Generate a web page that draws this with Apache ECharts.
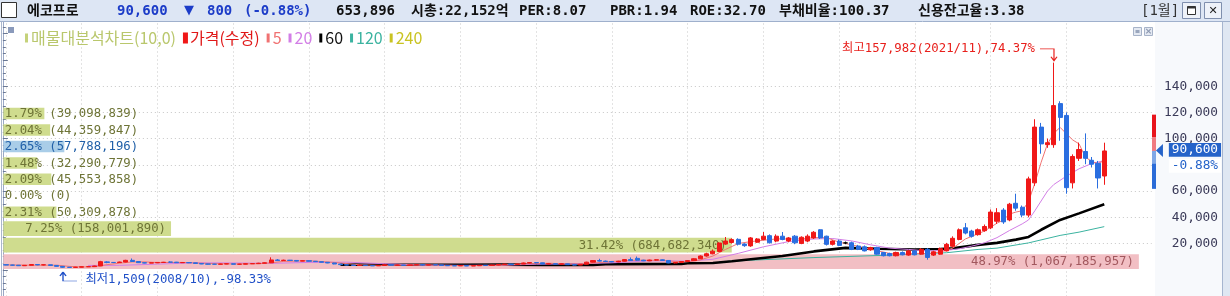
<!DOCTYPE html>
<html><head><meta charset="utf-8">
<script src="https://cdn.jsdelivr.net/npm/echarts@6/dist/echarts.min.js"></script>
<style>html,body{margin:0;padding:0;background:#fff;overflow:hidden}#c{width:1230px;height:296px}</style>
</head><body><div id="c"></div>
<script>
// ---------- categories (monthly, 2008/01 .. 2022/07 + empty right margin) ----------
const months = [];
for (let y = 2008; y <= 2023; y++) for (let m = 1; m <= 12; m++) if (months.length < 182) months.push(y + '/' + String(m).padStart(2, '0'));

// ---------- monthly candles (won) ----------
const openP = [3900,3600,3500,3100,3400,4000,3700,3800,3300,2600,1900,1800,2000,2300,2400,2900,6000,5600,5500,5900,7200,6300,5400,5100,5300,5600,5900,5800,5400,5500,5300,4800,4400,4300,4200,4400,4600,4200,4300,4600,4700,5000,5300,7500,7000,7300,7100,6600,6900,6500,6200,5700,5200,4400,3900,3600,3300,3500,3200,3000,3300,3800,3500,3600,3400,3700,3900,3600,3800,3700,3300,3100,3000,3200,2900,3100,3400,3300,3600,4000,4300,4100,4400,5200,5500,5300,4400,4600,4300,4500,3900,3600,4200,5800,7000,6600,6300,6000,6500,7800,8700,7300,6800,7400,7600,7100,5200,5600,6300,7000,8400,10500,12200,14000,19600,20800,23200,19600,18200,21000,23100,26000,21900,25600,21900,25600,20100,21900,24300,30500,25600,19400,21900,20500,20600,18100,17500,15200,16900,13200,12400,10700,13200,11200,14400,11900,15600,11200,11900,14400,17900,23100,32000,29500,26800,29800,32000,37000,45500,38000,50700,47700,41700,66300,108800,95400,95400,126700,117700,66300,85000,90200,83500,81200,71500];
const closeP = [3600,3500,3100,3400,4000,3700,3800,3300,2600,1900,1800,2000,2300,2400,2900,6200,5600,5500,5900,7200,6300,5400,5100,5300,5600,5700,5800,5400,5500,5300,4800,4400,4300,4200,4400,4600,4200,4300,4600,4700,5000,5300,7500,7000,7300,7100,6600,6900,6500,6200,5700,5200,4400,3900,3600,3300,3500,3200,3000,3300,3800,3500,3600,3400,3700,3900,3600,3800,3700,3300,3100,3000,3200,2900,3100,3400,3300,3600,4000,4300,4100,4400,5200,5500,5300,4400,4600,4300,4500,3900,3600,4200,5800,7000,6600,6300,6000,6500,7800,7000,7300,6800,7400,7600,7100,5200,5600,6300,7000,8400,10500,12200,14200,20400,21900,23000,19500,18400,24300,23500,25600,20600,25600,23100,24300,20600,24800,25600,28600,24300,19400,21900,18600,20500,15600,15600,14400,16900,11900,10700,10700,13200,11400,14400,11400,15600,9400,13700,16100,19400,24000,30500,28000,25500,30500,33000,44000,43500,36500,50000,47000,41700,69300,108800,96000,96900,125200,116200,62600,86400,91700,85000,80500,70000,90600];
const lowP = [3400,3200,3000,3000,3300,3500,3400,3200,2400,1509,1600,1700,1900,2100,2300,2800,5000,5100,5300,5700,6000,5200,4900,5000,5100,5400,5500,5200,5200,5100,4700,4300,4100,4000,4100,4300,4100,4000,4200,4400,4600,4900,5200,6800,6800,6800,6400,6500,6300,6000,5500,5000,4200,3700,3400,3200,3200,3100,2900,2900,3200,3400,3400,3300,3300,3600,3500,3500,3500,3200,3000,2900,2900,2800,2800,3000,3100,3200,3500,3900,3900,4000,4300,5000,5000,4200,4200,4100,4100,3700,3400,3500,4100,5600,6300,6000,5800,5800,6300,6800,7000,6600,6600,7100,6900,5000,4900,5400,6100,6800,8200,10000,11800,13500,19000,20000,18500,17500,17500,20500,22500,20000,21000,22500,21000,19500,19500,21000,23500,23500,18500,18500,18000,19500,15000,15000,14000,14500,11500,10200,10200,10200,11000,10700,11000,11500,7700,10500,11500,14000,17000,22500,27000,24500,26000,29000,31000,35000,35000,37000,45000,40000,40000,64000,88500,93000,93000,98400,58000,62000,83000,80500,78000,62000,64800];
const highP = [4100,3800,3600,3600,4300,4100,4000,3900,3400,2700,2100,2200,2500,2700,3100,6800,6500,5900,6200,7600,8600,6500,5600,5600,5900,6000,6400,6000,5800,5700,5400,4900,4600,4500,4600,4800,4700,4500,4800,4900,5300,5600,9500,8200,7700,7500,7200,7100,7000,6700,6300,5800,5300,4500,4000,3700,3700,3600,3300,3500,4000,3900,3800,3700,3900,4100,4000,4000,3900,3800,3400,3200,3400,3300,3200,3600,3500,3800,4200,4500,4500,4600,5500,5900,5800,5400,4900,4700,4700,4600,4000,4400,6100,7400,8400,7000,6600,6800,8200,9400,10100,7600,7700,8000,7900,7300,5900,6600,7300,8800,11000,13000,15500,21000,25000,24000,24000,20200,25000,24200,28800,27000,27000,28800,25000,26500,25500,27000,29500,31000,26000,22500,23000,21500,21500,19000,18500,17500,17500,13500,13000,13800,14000,15000,15000,16500,16500,14500,17000,20500,25500,31500,35600,30500,31500,34500,46000,47000,47000,51000,58000,49000,71000,114800,112000,100000,157982,128500,120000,88000,97000,104000,86000,83000,96900];

// ---------- moving averages: [month, value] ----------
const ma5 = [['2008/01',3700],['2008/05',3500],['2008/09',3500],['2008/11',2600],['2009/01',2100],['2009/03',2400],['2009/05',3900],['2009/07',5000],['2009/09',6000],['2009/11',6000],['2010/01',5500],['2010/05',5600],['2010/09',4800],['2011/01',4400],['2011/05',4600],['2011/07',5300],['2011/09',6400],['2012/01',6900],['2012/05',5600],['2012/09',3800],['2013/01',3300],['2013/07',3700],['2014/01',3200],['2014/07',3400],['2014/11',4400],['2015/03',5000],['2015/07',4200],['2015/10',5000],['2016/01',6400],['2016/05',7300],['2016/09',7200],['2016/11',6400],['2017/01',6100],['2017/03',7500],['2017/05',10500],['2017/07',15500],['2017/09',20000],['2017/11',21500],['2018/01',22500],['2018/03',23500],['2018/05',23500],['2018/07',23500],['2018/09',24500],['2018/11',24500],['2019/01',21000],['2019/03',19000],['2019/05',16800],['2019/07',14500],['2019/09',12500],['2019/11',11800],['2020/01',12500],['2020/03',12300],['2020/05',13500],['2020/07',16500],['2020/09',23500],['2020/11',27500],['2020/12',29500],['2021/01',32500],['2021/02',35500],['2021/03',38000],['2021/04',42500],['2021/05',44000],['2021/06',45000],['2021/07',52000],['2021/08',66000],['2021/09',82000],['2021/10',96000],['2021/11',104000],['2021/12',108600],['2022/01',103700],['2022/02',99000],['2022/03',96000],['2022/04',86000],['2022/05',82600],['2022/06',81000],['2022/07',83300]];
const ma20 = [['2009/02',3300],['2009/07',3400],['2010/01',4300],['2010/07',5300],['2011/01',5200],['2011/07',4900],['2012/01',5600],['2012/07',5800],['2013/01',4600],['2013/07',3500],['2014/01',3400],['2014/07',3400],['2015/01',4200],['2015/07',4500],['2016/01',5300],['2016/07',6800],['2017/01',6600],['2017/05',8000],['2017/09',12500],['2018/01',17500],['2018/05',21500],['2018/09',23500],['2018/12',23800],['2019/03',22000],['2019/06',19000],['2019/09',16500],['2019/12',15500],['2020/03',14300],['2020/06',14800],['2020/08',16000],['2020/10',18000],['2020/12',20500],['2021/02',24500],['2021/04',30000],['2021/06',35000],['2021/07',38000],['2021/08',45000],['2021/10',60000],['2021/11',65000],['2022/01',71400],['2022/03',77000],['2022/05',81000],['2022/07',83300]];
const ma60 = [['2012/06',3900],['2013/01',3800],['2014/01',3800],['2014/08',3900],['2015/02',3700],['2015/10',3700],['2015/12',4300],['2016/12',4400],['2017/01',5000],['2017/05',5200],['2017/08',6500],['2017/11',8000],['2018/04',10500],['2018/09',14000],['2019/02',16700],['2019/07',16000],['2020/01',15500],['2020/05',15800],['2020/07',16300],['2020/11',19000],['2021/02',20500],['2021/05',23000],['2021/07',25000],['2021/09',30500],['2021/12',38000],['2022/03',43000],['2022/07',50000]];
const ma120 = [['2017/06',6000],['2017/11',7300],['2018/09',9300],['2019/08',11000],['2020/01',12000],['2020/06',13000],['2020/11',15500],['2021/02',16500],['2021/07',20500],['2021/12',26200],['2022/03',28700],['2022/07',32900]];
const ma240 = [];

// ---------- volume profile (10 price bands, bottom to top) ----------
const bandEdges = [0,12540,25080,37620,50160,62700,75240,87780,100320,112860,125400];
const profilePct = [48.97,31.42,7.25,2.31,0.00,2.09,1.48,2.65,2.04,1.79];
const profileVol = [1067185957,684682340,158001890,50309878,0,45553858,32290779,57788196,44359847,39098839];

// ---------- current price / header ----------
const curPrice = 90600;
const rangeSegs = [118300,101200,90600,81100,61700];
const yTicks = [20000,40000,60000,80000,100000,120000,140000];

const MONO = "'DejaVu Sans Mono','Noto Sans CJK KR',monospace";
const CJK = "'Noto Sans CJK KR','DejaVu Sans',sans-serif";
const fmt = v => v.toLocaleString('en-US');
const mctx = document.createElement('canvas').getContext('2d');
function textW(t, font){ mctx.font = font; return mctx.measureText(t).width; }

const candles = openP.map((o, i) => {
  const v = [o, closeP[i], lowP[i], highP[i]];
  if (o === closeP[i]) return {value: v, itemStyle: {color:'#000', color0:'#000', borderColor:'#000', borderColor0:'#000'}};
  return v;
});
let hiIdx = 0, loIdx = 0;
highP.forEach((h, i) => { if (h > highP[hiIdx]) hiIdx = i; });
lowP.forEach((l, i) => { if (l < lowP[loIdx]) loIdx = i; });
const hiPct = ((highP[hiIdx] - curPrice) / curPrice * 100).toFixed(2);
const loPct = ((lowP[loIdx] - curPrice) / curPrice * 100).toFixed(2);
const lastCat = months[months.length - 1];
let maxBand = 0; profilePct.forEach((p, k) => { if (p > profilePct[maxBand]) maxBand = k; });

const GRID_L = 2.84, GRID_W = 1148.78;
const PFONT = "12.3px " + MONO;

const chart = echarts.init(document.getElementById('c'), null, {renderer: 'canvas'});
chart.setOption({
  animation: false,
  textStyle: {fontFamily: MONO},
  grid: {left: GRID_L, width: GRID_W, top: 7.5, bottom: -6.6},
  legend: {
    left: 25, top: 30, padding: 0, itemGap: 7, itemWidth: 3, itemHeight: 9, icon: 'rect', selectedMode: false,
    textStyle: {fontFamily: CJK, fontSize: 16, padding: [0,0,0,-2]},
    data: [
      {name: '매물대분석차트(10,0)', textStyle: {color: '#b9c76c'}},
      {name: '가격(수정)', textStyle: {color: '#e01818'}},
      {name: '5', textStyle: {color: '#f07272'}},
      {name: '20', textStyle: {color: '#d27ee6'}},
      {name: '60', textStyle: {color: '#111'}},
      {name: '120', textStyle: {color: '#3bb3a0'}},
      {name: '240', textStyle: {color: '#c9c322'}}
    ]
  },
  xAxis: [
    {type: 'category', data: months, boundaryGap: true,
     axisLine: {show: false}, axisTick: {show: false}, axisLabel: {show: false},
     splitLine: {show: true, alignWithLabel: true,
       interval: (idx, val) => idx < openP.length && String(val).slice(5) === '01',
       lineStyle: {color: '#c6c6c6', type: [1, 3], width: 1}}},
    {type: 'value', min: 0, max: 49.52, show: false}
  ],
  yAxis: {
    type: 'value', position: 'right', min: -20000, max: 200000, interval: 20000, offset: 2.4,
    axisLine: {show: true, lineStyle: {color: '#9aa8c6'}},
    axisTick: {show: true, length: 5, lineStyle: {color: '#6a7894'}},
    minorTick: {show: true, splitNumber: 4, length: 3, lineStyle: {color: '#6a7894'}},
    axisLabel: {align: 'right', margin: 64, color: '#3a3a58', fontFamily: MONO, fontSize: 12.8,
      formatter: v => yTicks.indexOf(v) >= 0 ? fmt(v) : ''},
    splitLine: {show: true, lineStyle: {type: [1, 3], width: 1,
      color: ['rgba(0,0,0,0)','rgba(0,0,0,0)','#c6c6c6','#c6c6c6','#c6c6c6','#c6c6c6','#c6c6c6','#c6c6c6','#c6c6c6','rgba(0,0,0,0)','rgba(0,0,0,0)','rgba(0,0,0,0)']}}
  },
  series: [
    {
      type: 'custom', name: '매물대분석차트(10,0)', xAxisIndex: 1, yAxisIndex: 0, z: 1, silent: true,
      itemStyle: {color: '#c5d27a'},
      encode: {x: 0, y: [1, 2]},
      data: profilePct.map((p, k) => [p, bandEdges[k], bandEdges[k + 1], profileVol[k], k]),
      renderItem(params, api) {
        const pct = api.value(0), lo = api.value(1), hi = api.value(2), vol = api.value(3), k = api.value(4);
        const cs = params.coordSys;
        const yTop = api.coord([0, hi])[1], yBot = api.coord([0, lo])[1];
        const mid = (yTop + yBot) / 2;
        const h = pct < 5 ? 11.5 : (yBot - yTop - 1.6);
        const top = mid - h / 2, bot = mid + h / 2;
        const x0 = cs.x, x1 = api.coord([pct, lo])[0];
        let fill = '#cfdc8e', tcol = '#6e7436';
        if (k === maxBand) { fill = '#f2bfc4'; tcol = '#a2585e'; }
        else if (curPrice >= lo && curPrice < hi) { fill = '#a9cde8'; tcol = '#2160a8'; }
        const children = [];
        if (pct > 0) children.push({type: 'rect', shape: {x: x0 + 0.5, y: top, width: x1 - x0 - 0.5, height: bot - top}, style: {fill}});
        const txt = pct.toFixed(2) + '% (' + fmt(vol) + ')';
        const w = textW(txt, PFONT);
        let tx = x0 + 2, align = 'left';
        if (x1 - x0 > w + 12) { tx = x1 - 5; align = 'right'; }
        children.push({type: 'text', style: {text: txt, x: tx, y: mid + 0.5, fill: tcol, font: PFONT, align, verticalAlign: 'middle'}});
        return {type: 'group', children};
      }
    },
    {type: 'line', name: '240', data: ma240, symbol: 'none', z: 3, itemStyle: {color: '#c9c322'}, lineStyle: {color: '#c9c322', width: 1}},
    {type: 'line', name: '120', data: ma120, symbol: 'none', z: 3, itemStyle: {color: '#3bb3a0'}, lineStyle: {color: '#3bb3a0', width: 1}},
    {type: 'line', name: '60', data: ma60, symbol: 'none', z: 3, itemStyle: {color: '#000'}, lineStyle: {color: '#000', width: 2.6}},
    {type: 'line', name: '20', data: ma20, symbol: 'none', z: 3, itemStyle: {color: '#d27ee6'}, lineStyle: {color: '#d27ee6', width: 1}},
    {type: 'line', name: '5', data: ma5, symbol: 'none', z: 3, itemStyle: {color: '#f07272'}, lineStyle: {color: '#f07272', width: 1}},
    {
      type: 'candlestick', name: '가격(수정)', z: 4, barWidth: 4.6, data: candles,
      itemStyle: {color: '#f01818', color0: '#2a6ee0', borderColor: '#f01818', borderColor0: '#2a6ee0', borderWidth: 1},
      markPoint: {
        silent: true, animation: false,
        data: [
          {coord: [months[hiIdx], highP[hiIdx]], symbol: 'path://M0,0 L14,0 L14,11 M11,8 L14,12 L17,8', symbolSize: [17, 12], symbolOffset: [-5.3, -7.8],
           itemStyle: {color: 'none', borderColor: '#e8201c', borderWidth: 1},
           label: {show: true, position: 'left', distance: 2, offset: [0, -6], formatter: '최고' + fmt(highP[hiIdx]) + '(' + months[hiIdx] + '),' + hiPct + '%', color: '#e8201c', fontFamily: MONO, fontSize: 12.3}},
          {coord: [months[loIdx], lowP[loIdx]], symbol: 'path://M3,0 L0,4 M3,0 L6,4 M3,0 L3,9 L17,9', symbolSize: [17, 9], symbolOffset: [5.7, 8.7],
           itemStyle: {color: 'none', borderColor: '#2050c8', borderWidth: 1},
           label: {show: true, position: 'right', distance: 5, offset: [0, 3.5], formatter: '최저' + fmt(lowP[loIdx]) + '(' + months[loIdx] + '),' + loPct + '%', color: '#2050c8', fontFamily: MONO, fontSize: 12.3}},
          {coord: [lastCat, curPrice], symbol: 'triangle', symbolSize: [13, 7], symbolRotate: 90, symbolOffset: [11, -0.5],
           itemStyle: {color: '#2563c9'}, label: {show: false}},
          {coord: [lastCat, curPrice], symbol: 'rect', symbolSize: 1, itemStyle: {color: 'rgba(0,0,0,0)'},
           label: {show: true, position: 'inside', offset: [46.5, -1], formatter: fmt(curPrice), color: '#fff', backgroundColor: '#2563c9', padding: [1, 3, 0, 3], fontFamily: MONO, fontSize: 12.8}},
          {coord: [lastCat, curPrice], symbol: 'rect', symbolSize: 1, itemStyle: {color: 'rgba(0,0,0,0)'},
           label: {show: true, position: 'inside', offset: [46.5, 15], formatter: '-0.88%', color: '#2563c9', backgroundColor: '#fff', padding: [1, 3, 0, 3], fontFamily: MONO, fontSize: 12.8}}
        ]
      }
    },
    {
      type: 'custom', xAxisIndex: 1, yAxisIndex: 0, z: 5, silent: true, clip: false,
      data: [rangeSegs],
      renderItem(params, api) {
        const cs = params.coordSys;
        const x = cs.x + cs.width + 0.4;
        const cols = ['#e8141c', '#f07a80', '#7fa7e6', '#2b6cd8'];
        const children = [];
        for (let s = 0; s < 4; s++) {
          const y0 = api.coord([0, api.value(s)])[1], y1 = api.coord([0, api.value(s + 1)])[1];
          children.push({type: 'rect', shape: {x, y: y0, width: 4, height: y1 - y0}, style: {fill: cols[s]}});
        }
        return {type: 'group', children};
      }
    }
  ],
  graphic: [
    {type: 'rect', z: -5, shape: {x: 1155, y: 22, width: 67, height: 274}, style: {fill: '#f7f9fc'}},
    {type: 'rect', z: 50, shape: {x: 1222, y: 0, width: 8, height: 296}, style: {fill: '#dfe7f2'}},
    {type: 'line', z: 50, shape: {x1: 1222.5, y1: 21, x2: 1222.5, y2: 296}, style: {stroke: '#a6b5cf', lineWidth: 1}},
    {type: 'line', z: 50, shape: {x1: 1.5, y1: 21, x2: 1.5, y2: 296}, style: {stroke: '#aab6cc', lineWidth: 1}},
    // header bar
    {type: 'rect', z: 100, shape: {x: 0, y: 0, width: 1230, height: 21}, style: {fill: '#dde6f4'}},
    {type: 'line', z: 101, shape: {x1: 0, y1: 21.5, x2: 1230, y2: 21.5}, style: {stroke: '#9fb0cc', lineWidth: 1}},
    {type: 'rect', z: 101, shape: {x: 1.5, y: 2.5, width: 15, height: 15}, style: {fill: '#fff', stroke: '#333', lineWidth: 1}},
    {type: 'text', z: 102, style: {text: '에코프로', x: 27, y: 11, fill: '#111', font: "bold 14px " + MONO, verticalAlign: 'middle'}},
    {type: 'text', z: 102, style: {text: '90,600', x: 117, y: 11, fill: '#1c3cc8', font: "bold 14px " + MONO, verticalAlign: 'middle'}},
    {type: 'text', z: 102, style: {text: '▼', x: 184, y: 11, fill: '#1c3cc8', font: "bold 13px 'DejaVu Sans'", verticalAlign: 'middle'}},
    {type: 'text', z: 102, style: {text: '800', x: 207, y: 11, fill: '#1c3cc8', font: "bold 14px " + MONO, verticalAlign: 'middle'}},
    {type: 'text', z: 102, style: {text: '(-0.88%)', x: 244, y: 11, fill: '#1c3cc8', font: "bold 14px " + MONO, verticalAlign: 'middle'}},
    {type: 'text', z: 102, style: {text: '653,896', x: 336, y: 11, fill: '#111', font: "bold 14px " + MONO, verticalAlign: 'middle'}},
    {type: 'text', z: 102, style: {text: '시총:22,152억', x: 411, y: 11, fill: '#111', font: "bold 14px " + MONO, verticalAlign: 'middle'}},
    {type: 'text', z: 102, style: {text: 'PER:8.07', x: 519, y: 11, fill: '#111', font: "bold 14px " + MONO, verticalAlign: 'middle'}},
    {type: 'text', z: 102, style: {text: 'PBR:1.94', x: 610, y: 11, fill: '#111', font: "bold 14px " + MONO, verticalAlign: 'middle'}},
    {type: 'text', z: 102, style: {text: 'ROE:32.70', x: 690, y: 11, fill: '#111', font: "bold 14px " + MONO, verticalAlign: 'middle'}},
    {type: 'text', z: 102, style: {text: '부채비율:100.37', x: 779, y: 11, fill: '#111', font: "bold 14px " + MONO, verticalAlign: 'middle'}},
    {type: 'text', z: 102, style: {text: '신용잔고율:3.38', x: 918, y: 11, fill: '#111', font: "bold 14px " + MONO, verticalAlign: 'middle'}},
    {type: 'text', z: 102, style: {text: '[1월]', x: 1141, y: 11, fill: '#333', font: "14px " + MONO, verticalAlign: 'middle'}},
    {type: 'rect', z: 101, shape: {x: 1182.5, y: 2.5, width: 18, height: 16}, style: {fill: '#eef2f9', stroke: '#7f8fae', lineWidth: 1}},
    {type: 'rect', z: 102, shape: {x: 1187.5, y: 6.5, width: 8, height: 8}, style: {fill: '#fff', stroke: '#333', lineWidth: 1}},
    {type: 'rect', z: 102, shape: {x: 1187.5, y: 6.5, width: 8, height: 2}, style: {fill: '#333'}},
    {type: 'rect', z: 101, shape: {x: 1204.5, y: 2.5, width: 17, height: 16}, style: {fill: '#eef2f9', stroke: '#7f8fae', lineWidth: 1}},
    {type: 'text', z: 102, style: {text: '✕', x: 1213, y: 11, fill: '#222', font: "bold 11px 'DejaVu Sans'", align: 'center', verticalAlign: 'middle'}},
    // legend row decorations
    {type: 'rect', z: 10, shape: {x: 8, y: 27, width: 6, height: 6}, style: {fill: '#8a9abb'}},
    {type: 'rect', z: 10, shape: {x: 1133.5, y: 27.5, width: 8, height: 8}, style: {fill: '#e4e9f2', stroke: '#a7b3c8', lineWidth: 1}},
    {type: 'rect', z: 11, shape: {x: 1135.5, y: 30, width: 4, height: 3}, style: {fill: '#9aa6bd'}},
    {type: 'rect', z: 10, shape: {x: 1144.5, y: 27.5, width: 8, height: 8}, style: {fill: '#e4e9f2', stroke: '#a7b3c8', lineWidth: 1}},
    {type: 'text', z: 11, style: {text: '×', x: 1148.5, y: 31.5, fill: '#8c98b0', font: "bold 9px 'DejaVu Sans'", align: 'center', verticalAlign: 'middle'}}
  ]
});
</script>
</body></html>
